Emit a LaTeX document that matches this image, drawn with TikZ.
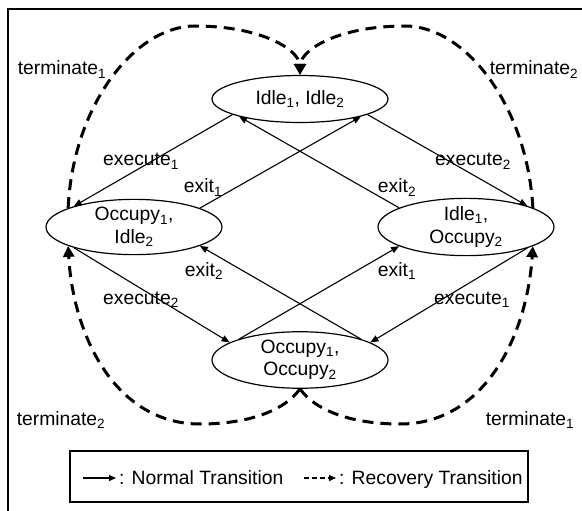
\documentclass[tikz,border=0pt]{standalone}
\usepackage{fontspec}
\setmainfont{Liberation Sans}
\usetikzlibrary{arrows.meta,shapes.geometric}
\begin{document}
\begin{tikzpicture}[x=1pt,y=-1pt,
  font=\fontsize{19.3}{22.5}\selectfont,
  state/.style={ellipse,draw,line width=1.2pt,minimum width=176pt,minimum height=48pt,inner sep=0pt,align=center},
  normal/.style={line width=1.1pt,-{Triangle[length=8pt,width=6.5pt]}},
  recovery/.style={line width=3pt,dash pattern=on 11pt off 7pt,-{Triangle[length=11pt,width=11pt]}},
  lbl/.style={inner sep=0pt,anchor=base}]
\useasboundingbox (0,0) rectangle (582,511);
% frame
\draw[line width=2.5pt] (8,511) -- (8,9) -- (582,9);
% states
\node[state,minimum height=47pt] (T) at (300,99) {Idle\textsubscript{1}, Idle\textsubscript{2}};
\node[state,minimum height=49pt] (L) at (134,227) {Occupy\textsubscript{1},\\Idle\textsubscript{2}};
\node[state,minimum height=49pt] (R) at (466,227) {Idle\textsubscript{1},\\Occupy\textsubscript{2}};
\node[state] (B) at (300,360) {Occupy\textsubscript{1},\\Occupy\textsubscript{2}};
% normal transitions (upper)
\draw[normal] (T.193) -- (L.161);
\draw[normal] (L.16) -- (T.-16);
\draw[normal] (R.164) -- (T.196);
\draw[normal] (T.-13) -- (R.19);
% normal transitions (lower)
\draw[normal] (L.199) -- (B.166);
\draw[normal] (B.19) -- (L.-16);
\draw[normal] (B.161) -- (R.196);
\draw[normal] (R.-19) -- (B.14);
% recovery transitions
\draw[recovery] (L.164) .. controls (73,105) and (135,26) .. (195,26)
   .. controls (262,26) and (299,50) .. (T.north);
\draw[recovery] (R.16) .. controls (527,105) and (465,26) .. (405,26)
   .. controls (338,26) and (301,50) .. (T.north);
\draw[recovery] (B.south) .. controls (285,410) and (250,424) .. (200,424)
   .. controls (115,424) and (73,335) .. (L.196);
\draw[recovery] (B.south) .. controls (315,410) and (350,424) .. (400,424)
   .. controls (485,424) and (527,335) .. (R.-16);
% labels
\node[lbl] (ex1a) at (141,166) {execute\textsubscript{1}};
\node[lbl] (xt1a) at (203,193) {exit\textsubscript{1}};
\node[lbl] (xt2a) at (397,193) {exit\textsubscript{2}};
\node[lbl] (ex2a) at (473,166) {execute\textsubscript{2}};
\node[lbl] (xt2b) at (204,276) {exit\textsubscript{2}};
\node[lbl] (xt1b) at (397,276) {exit\textsubscript{1}};
\node[lbl] (ex2b) at (141,304) {execute\textsubscript{2}};
\node[lbl] (ex1b) at (472,304) {execute\textsubscript{1}};
\node[lbl] (tm1a) at (62,75) {terminate\textsubscript{1}};
\node[lbl] (tm2a) at (534,75) {terminate\textsubscript{2}};
\node[lbl] (tm2b) at (61,425) {terminate\textsubscript{2}};
\node[lbl] (tm1b) at (530,425) {terminate\textsubscript{1}};
% legend
\node[draw,line width=1.3pt,minimum width=458pt,minimum height=51pt,inner sep=0pt] (legend) at (299,476.5) {};
\node[inner sep=0pt,anchor=base west] (normtxt) at (119,484.5) {: Normal Transition};
\node[inner sep=0pt,anchor=base west] (rectxt) at (339,484.5) {: Recovery Transition};
\coordinate (n0) at (83,478);
\coordinate (r0) at (304,478);
\draw[line width=1.3pt,-{Triangle[length=7pt,width=6pt]}] (n0) -- ([xshift=-3pt]n0 -| normtxt.west);
\draw[line width=1.3pt,dash pattern=on 5pt off 3pt,-{Triangle[length=7pt,width=6pt]}] (r0) -- ([xshift=-3pt]r0 -| rectxt.west);
\end{tikzpicture}
\end{document}
